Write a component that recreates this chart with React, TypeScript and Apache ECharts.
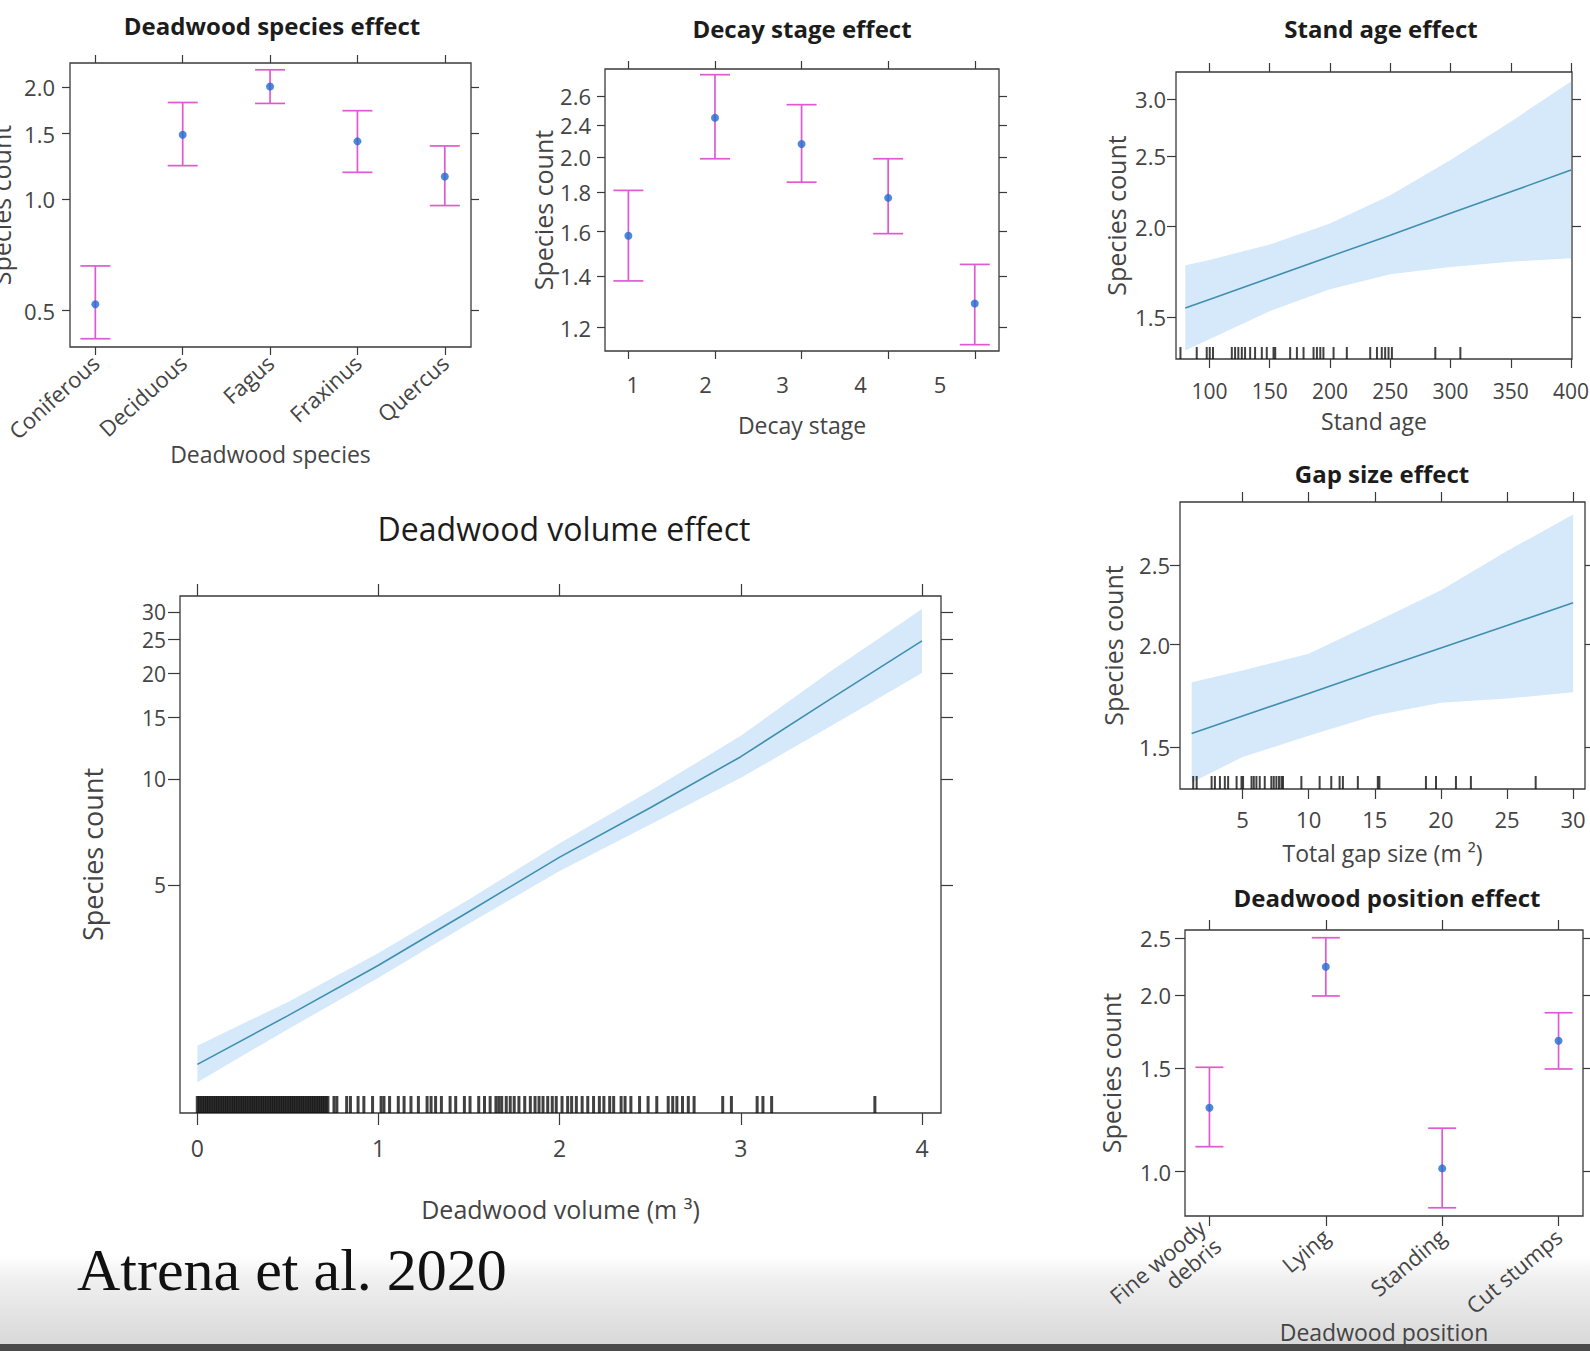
import React, { useEffect, useRef } from 'react';
import * as echarts from 'echarts';

// ---------- Deadwood species effect ----------
const speciesCategories = ['Coniferous', 'Deciduous', 'Fagus', 'Fraxinus', 'Quercus'];
const speciesFit = [0.52, 1.49, 2.01, 1.43, 1.15];
const speciesLower = [0.42, 1.23, 1.81, 1.18, 0.96];
const speciesUpper = [0.66, 1.82, 2.23, 1.73, 1.39];
const speciesYTicks = [0.5, 1.0, 1.5, 2.0];
const speciesYTickLabels = ['0.5', '1.0', '1.5', '2.0'];

// ---------- Decay stage effect ----------
const decayCategories = ['1', '2', '3', '4', '5'];
const decayFit = [1.58, 2.25, 2.08, 1.77, 1.29];
const decayLower = [1.38, 1.99, 1.855, 1.59, 1.14];
const decayUpper = [1.81, 2.56, 2.34, 1.99, 1.45];
const decayYTicks = [1.2, 1.4, 1.6, 1.8, 2.0, 2.2, 2.4];
const decayYTickLabels = ['1.2', '1.4', '1.6', '1.8', '2.0', '2.4', '2.6'];
const decayXLabelPositions = [1.05, 1.89, 2.78, 3.68, 4.6];

// ---------- Stand age effect ----------
const standAgeX = [80, 100, 150, 200, 250, 300, 350, 400];
const standAgeFit = [1.545, 1.588, 1.7, 1.82, 1.947, 2.087, 2.234, 2.393];
const standAgeUpper = [1.77, 1.8, 1.89, 2.02, 2.21, 2.47, 2.79, 3.17];
const standAgeLower = [1.35, 1.4, 1.53, 1.64, 1.72, 1.76, 1.79, 1.81];
const standAgeRug = [76, 89.5, 97.8, 100.3, 103, 118.6, 121.3, 124, 126.9, 129.6, 133.8, 137.9, 143.5, 147.6, 153.2, 154.6, 167, 172.6, 178.1, 186.4, 189.2, 192, 194.6, 203, 214, 233.4, 239, 243, 245.8, 248.6, 251.4, 287.4, 308.2];
const standAgeXTicks = [100, 150, 200, 250, 300, 350, 400];
const standAgeYTicks = [1.5, 2.0, 2.5, 3.0];
const standAgeYTickLabels = ['1.5', '2.0', '2.5', '3.0'];

// ---------- Gap size effect ----------
const gapX = [1.15, 5, 10, 15, 20, 25, 30];
const gapFit = [1.56, 1.638, 1.745, 1.86, 1.982, 2.111, 2.25];
const gapUpper = [1.8, 1.86, 1.95, 2.13, 2.33, 2.6, 2.88];
const gapLower = [1.36, 1.46, 1.55, 1.64, 1.7, 1.72, 1.75];
const gapRug = [1.27, 1.53, 2.66, 2.91, 3.29, 3.66, 3.91, 4.55, 4.92, 5.04, 5.68, 5.85, 6.05, 6.3, 6.68, 7.18, 7.36, 7.56, 7.76, 7.94, 8.06, 9.45, 10.83, 11.71, 12.34, 12.59, 13.72, 15.23, 15.35, 18.87, 19.63, 21.14, 22.27, 27.17];
const gapXTicks = [5, 10, 15, 20, 25, 30];
const gapYTicks = [1.5, 2.0, 2.5];
const gapYTickLabels = ['1.5', '2.0', '2.5'];

// ---------- Deadwood position effect ----------
const positionCategories = ['Fine woody\ndebris', 'Lying', 'Standing', 'Cut stumps'];
const positionFit = [1.285, 2.234, 1.013, 1.671];
const positionLower = [1.103, 1.992, 0.868, 1.496];
const positionUpper = [1.506, 2.503, 1.186, 1.865];
const positionYTicks = [1.0, 1.5, 2.0, 2.5];
const positionYTickLabels = ['1.0', '1.5', '2.0', '2.5'];

// ---------- Deadwood volume effect ----------
const volumeX = [0, 0.5, 1, 1.5, 2, 2.5, 3, 3.5, 4];
const volumeFit = [1.54, 2.12, 2.95, 4.2, 6.0, 8.3, 11.6, 17.0, 24.8];
const volumeUpper = [1.74, 2.32, 3.2, 4.55, 6.57, 9.27, 13.3, 20.4, 30.6];
const volumeLower = [1.37, 1.94, 2.72, 3.88, 5.48, 7.43, 10.1, 14.2, 20.1];
const volumeRugDense = [0, 0.01, 0.02, 0.03, 0.04, 0.05, 0.06, 0.07, 0.08, 0.09, 0.1, 0.11, 0.12, 0.13, 0.14, 0.15, 0.16, 0.17, 0.18, 0.19, 0.2, 0.21, 0.22, 0.23, 0.24, 0.25, 0.26, 0.27, 0.28, 0.29, 0.3, 0.31, 0.32, 0.33, 0.34, 0.35, 0.36, 0.37, 0.38, 0.39, 0.4, 0.41, 0.42, 0.43, 0.44, 0.45, 0.46, 0.47, 0.48, 0.49, 0.5, 0.51, 0.52, 0.53, 0.54, 0.55, 0.56, 0.57, 0.58, 0.59, 0.6, 0.61, 0.62, 0.63, 0.64, 0.65, 0.66, 0.67, 0.68, 0.69, 0.7, 0.71, 0.72];
const volumeRugSparse = [0.754, 0.77, 0.824, 0.845, 0.887, 0.919, 0.967, 1.014, 1.03, 1.061, 1.109, 1.141, 1.179, 1.22, 1.268, 1.29, 1.315, 1.347, 1.395, 1.426, 1.474, 1.505, 1.553, 1.585, 1.616, 1.648, 1.664, 1.68, 1.705, 1.727, 1.749, 1.775, 1.807, 1.838, 1.864, 1.886, 1.908, 1.934, 1.959, 1.981, 2.013, 2.044, 2.066, 2.092, 2.124, 2.155, 2.187, 2.219, 2.244, 2.276, 2.298, 2.339, 2.361, 2.393, 2.441, 2.488, 2.536, 2.599, 2.624, 2.647, 2.678, 2.71, 2.742, 2.9, 2.948, 3.09, 3.122, 3.17, 3.74];
const volumeXTicks = [0, 1, 2, 3, 4];
const volumeYTicks = [5, 10, 15, 20, 25, 30];
const volumeYTickLabels = ['5', '10', '15', '20', '25', '30'];

// ---------- styling ----------
const FONT = '"Open Sans", Lato, sans-serif';
const AXIS = '#3a3a3a';
const LABEL = '#444444';
const TITLE = '#1c1c1c';
const ERR = '#df5ad2';
const POINT = '#1f6dcf';
const BAND = '#d6e9fa';
const LINE = '#3f8fae';

const L = Math.log;

const nearest = (pos: number[], labels: string[]) => (v: number) => {
  let bi = 0;
  let bd = Infinity;
  pos.forEach((p, i) => {
    const d = Math.abs(p - v);
    if (d < bd) {
      bd = d;
      bi = i;
    }
  });
  return labels[bi];
};

interface AxisCfg {
  min: number;
  max: number;
  ticks: number[];
  labelPos?: number[];
  labels: string[];
  rotate?: number;
  name: string;
  nameGap: number;
  margin: number;
  fontSize: number;
  nameSize: number;
}

interface PanelCfg {
  grid: { left: number; top: number; width: number; height: number };
  x: AxisCfg;
  y: AxisCfg; // raw values, log-transformed inside
  tickLen: number;
}

function buildAxes(i: number, p: PanelCfg) {
  const tick = (vals: number[]) => ({
    show: true,
    inside: false,
    length: p.tickLen,
    customValues: vals,
    lineStyle: { color: AXIS, width: 1.2 },
  });
  const line = { show: false, onZero: false };
  const xPos = p.x.labelPos || p.x.ticks;
  const xBottom: any = {
    type: 'value',
    gridIndex: i,
    position: 'bottom',
    min: p.x.min,
    max: p.x.max,
    axisLine: line,
    splitLine: { show: false },
    axisTick: tick(p.x.ticks),
    axisLabel: {
      show: true,
      customValues: xPos,
      formatter: nearest(xPos, p.x.labels),
      rotate: p.x.rotate || 0,
      margin: p.x.margin,
      color: LABEL,
      fontFamily: FONT,
      fontSize: p.x.fontSize,
      lineHeight: p.x.fontSize + 2,
    },
    name: p.x.name,
    nameLocation: 'middle',
    nameGap: p.x.nameGap,
    nameMoveOverlap: false,
    nameTextStyle: { color: LABEL, fontFamily: FONT, fontSize: p.x.nameSize },
  };
  const xTop: any = {
    type: 'value',
    gridIndex: i,
    position: 'top',
    min: p.x.min,
    max: p.x.max,
    axisLine: line,
    splitLine: { show: false },
    axisTick: tick(p.x.ticks),
    axisLabel: { show: false },
  };
  const yT = p.y.ticks.map(L);
  const yLeft: any = {
    type: 'value',
    gridIndex: i,
    position: 'left',
    min: L(p.y.min),
    max: L(p.y.max),
    axisLine: line,
    splitLine: { show: false },
    axisTick: tick(yT),
    axisLabel: {
      show: true,
      customValues: yT,
      formatter: nearest(yT, p.y.labels),
      margin: p.y.margin,
      color: LABEL,
      fontFamily: FONT,
      fontSize: p.y.fontSize,
      lineHeight: p.y.fontSize,
    },
    name: p.y.name,
    nameLocation: 'middle',
    nameGap: p.y.nameGap,
    nameRotate: 90,
    nameMoveOverlap: false,
    nameTextStyle: { color: LABEL, fontFamily: FONT, fontSize: p.y.nameSize },
  };
  const yRight: any = {
    type: 'value',
    gridIndex: i,
    position: 'right',
    min: L(p.y.min),
    max: L(p.y.max),
    axisLine: line,
    splitLine: { show: false },
    axisTick: tick(yT),
    axisLabel: { show: false },
  };
  return { x: [xBottom, xTop], y: [yLeft, yRight] };
}

const errorBarRender = (half: number) => (params: any, api: any) => {
  const x = api.value(0);
  const lo = api.coord([x, api.value(1)]);
  const hi = api.coord([x, api.value(2)]);
  const style = { stroke: ERR, lineWidth: 1.7 };
  return {
    type: 'group',
    children: [
      { type: 'line', shape: { x1: lo[0], y1: lo[1], x2: hi[0], y2: hi[1] }, style },
      { type: 'line', shape: { x1: lo[0] - half, y1: lo[1], x2: lo[0] + half, y2: lo[1] }, style },
      { type: 'line', shape: { x1: hi[0] - half, y1: hi[1], x2: hi[0] + half, y2: hi[1] }, style },
    ],
  };
};

function errorSeries(i: number, fit: number[], lower: number[], upper: number[], half: number) {
  return [
    {
      type: 'custom',
      xAxisIndex: 2 * i,
      yAxisIndex: 2 * i,
      renderItem: errorBarRender(half),
      encode: { x: 0, y: [1, 2] },
      data: fit.map((_, k) => [k + 1, L(lower[k]), L(upper[k])]),
      z: 3,
      silent: true,
    },
    {
      type: 'scatter',
      xAxisIndex: 2 * i,
      yAxisIndex: 2 * i,
      symbol: 'circle',
      symbolSize: 8,
      itemStyle: { color: POINT },
      data: fit.map((v, k) => [k + 1, L(v)]),
      z: 4,
      silent: true,
    },
  ];
}

function curveSeries(
  i: number,
  xs: number[],
  fit: number[],
  lower: number[],
  upper: number[],
  rugs: { values: number[]; w: number }[],
  rugH: number,
  yMin: number,
) {
  const out: any[] = [
    {
      type: 'custom',
      xAxisIndex: 2 * i,
      yAxisIndex: 2 * i,
      data: xs.map((x, k) => [x, L(lower[k]), L(upper[k])]),
      encode: { x: 0, y: [1, 2] },
      renderItem: (params: any, api: any) => {
        if (params.dataIndex !== 0) return null;
        const pts: number[][] = [];
        xs.forEach((x, k) => pts.push(api.coord([x, L(upper[k])])));
        for (let k = xs.length - 1; k >= 0; k--) pts.push(api.coord([xs[k], L(lower[k])]));
        return { type: 'polygon', shape: { points: pts }, style: { fill: BAND } };
      },
      z: 2,
      silent: true,
    },
    {
      type: 'line',
      xAxisIndex: 2 * i,
      yAxisIndex: 2 * i,
      data: xs.map((x, k) => [x, L(fit[k])]),
      showSymbol: false,
      symbol: 'none',
      smooth: false,
      lineStyle: { color: LINE, width: 1.6 },
      z: 3,
      silent: true,
    },
  ];
  rugs.forEach((r) => {
    out.push({
      type: 'scatter',
      xAxisIndex: 2 * i,
      yAxisIndex: 2 * i,
      symbol: 'rect',
      symbolSize: [r.w, rugH],
      symbolOffset: [0, -rugH / 2],
      itemStyle: { color: '#111111' },
      clip: false,
      data: r.values.map((v) => [v, L(yMin)]),
      z: 4,
      silent: true,
    });
  });
  return out;
}

const catPos = (n: number) => Array.from({ length: n }, (_, k) => k + 1);

const panels: PanelCfg[] = [
  {
    grid: { left: 70, top: 63, width: 401, height: 284 },
    tickLen: 8,
    x: { min: 0.71, max: 5.3, ticks: catPos(5), labels: speciesCategories, rotate: 42, name: 'Deadwood species', nameGap: 95, margin: 12, fontSize: 22, nameSize: 23 },
    y: { min: 0.399, max: 2.326, ticks: speciesYTicks, labels: speciesYTickLabels, name: 'Species count', nameGap: 57, margin: 15, fontSize: 22, nameSize: 25 },
  },
  {
    grid: { left: 605, top: 69, width: 394, height: 282 },
    tickLen: 8,
    x: { min: 0.73, max: 5.28, ticks: catPos(5), labelPos: decayXLabelPositions, labels: decayCategories, name: 'Decay stage', nameGap: 62, margin: 21, fontSize: 22, nameSize: 23 },
    y: { min: 1.1186, max: 2.604, ticks: decayYTicks, labels: decayYTickLabels, name: 'Species count', nameGap: 50, margin: 14, fontSize: 22, nameSize: 25 },
  },
  {
    grid: { left: 1176, top: 72, width: 396, height: 287 },
    tickLen: 9,
    x: { min: 72.3, max: 400.8, ticks: standAgeXTicks, labels: standAgeXTicks.map(String), name: 'Stand age', nameGap: 50, margin: 20, fontSize: 21, nameSize: 23 },
    y: { min: 1.3146, max: 3.266, ticks: standAgeYTicks, labels: standAgeYTickLabels, name: 'Species count', nameGap: 48, margin: 10, fontSize: 22, nameSize: 25 },
  },
  {
    grid: { left: 1180, top: 502, width: 405, height: 287 },
    tickLen: 10,
    x: { min: 0.27, max: 30.9, ticks: gapXTicks, labels: gapXTicks.map(String), name: 'Total gap size (m ²)', nameGap: 52, margin: 18, fontSize: 22, nameSize: 23 },
    y: { min: 1.335, max: 2.983, ticks: gapYTicks, labels: gapYTickLabels, name: 'Species count', nameGap: 55, margin: 10, fontSize: 22, nameSize: 25 },
  },
  {
    grid: { left: 1185, top: 930, width: 398, height: 286 },
    tickLen: 10,
    x: { min: 0.79, max: 4.21, ticks: catPos(4), labels: positionCategories, rotate: 40, name: 'Deadwood position', nameGap: 104, margin: 17, fontSize: 22, nameSize: 23 },
    y: { min: 0.8405, max: 2.58, ticks: positionYTicks, labels: positionYTickLabels, name: 'Species count', nameGap: 62, margin: 14, fontSize: 22, nameSize: 25 },
  },
  {
    grid: { left: 180, top: 596, width: 761, height: 517 },
    tickLen: 12,
    x: { min: -0.096, max: 4.105, ticks: volumeXTicks, labels: volumeXTicks.map(String), name: 'Deadwood volume (m ³)', nameGap: 83, margin: 22, fontSize: 23, nameSize: 25 },
    y: { min: 1.119, max: 33.3, ticks: volumeYTicks, labels: volumeYTickLabels, name: 'Species count', nameGap: 74, margin: 14, fontSize: 21, nameSize: 27 },
  },
];

const titles = [
  { text: 'Deadwood species effect', x: 272, y: 25, size: 24, weight: 'bold' },
  { text: 'Decay stage effect', x: 802, y: 28, size: 24, weight: 'bold' },
  { text: 'Stand age effect', x: 1381, y: 28, size: 24, weight: 'bold' },
  { text: 'Gap size effect', x: 1382, y: 473, size: 24, weight: 'bold' },
  { text: 'Deadwood position effect', x: 1387, y: 897, size: 24, weight: 'bold' },
  { text: 'Deadwood volume effect', x: 564, y: 528, size: 32, weight: 'normal' },
];

function buildOption() {
  const grids: any[] = [];
  const xAxes: any[] = [];
  const yAxes: any[] = [];
  panels.forEach((p, i) => {
    grids.push({
      ...p.grid,
      show: true,
      borderColor: AXIS,
      borderWidth: 1.3,
      backgroundColor: 'rgba(0,0,0,0)',
      containLabel: false,
      outerBoundsMode: 'none',
    });
    const a = buildAxes(i, p);
    xAxes.push(...a.x);
    yAxes.push(...a.y);
  });

  const series: any[] = [
    ...errorSeries(0, speciesFit, speciesLower, speciesUpper, 15),
    ...errorSeries(1, decayFit, decayLower, decayUpper, 15),
    ...curveSeries(2, standAgeX, standAgeFit, standAgeLower, standAgeUpper, [{ values: standAgeRug, w: 2 }], 12, panels[2].y.min),
    ...curveSeries(3, gapX, gapFit, gapLower, gapUpper, [{ values: gapRug, w: 2 }], 13, panels[3].y.min),
    ...errorSeries(4, positionFit, positionLower, positionUpper, 14),
    ...curveSeries(
      5,
      volumeX,
      volumeFit,
      volumeLower,
      volumeUpper,
      [
        { values: volumeRugDense, w: 3.2 },
        { values: volumeRugSparse, w: 3 },
      ],
      17,
      panels[5].y.min,
    ),
  ];

  const graphic: any[] = [
    {
      type: 'rect',
      z: -10,
      shape: { x: 0, y: 1256, width: 1590, height: 90 },
      style: {
        fill: new echarts.graphic.LinearGradient(0, 0, 0, 1, [
          { offset: 0, color: 'rgba(240,240,240,0)' },
          { offset: 0.25, color: '#f0f0f0' },
          { offset: 1, color: '#d8d8d8' },
        ]),
      },
      silent: true,
    },
    {
      type: 'rect',
      z: -10,
      shape: { x: 0, y: 1344, width: 1590, height: 7 },
      style: { fill: '#4a4a4a' },
      silent: true,
    },
    ...titles.map((t) => ({
      type: 'text',
      x: t.x,
      y: t.y,
      z: 10,
      style: {
        text: t.text,
        fill: TITLE,
        fontFamily: FONT,
        fontSize: t.size,
        fontWeight: t.weight,
        align: 'center',
        verticalAlign: 'middle',
      },
      silent: true,
    })),
    {
      type: 'text',
      x: 77,
      y: 1270,
      z: 10,
      style: {
        text: 'Atrena et al. 2020',
        fill: '#111111',
        fontFamily: '"Liberation Serif", "DejaVu Serif", serif',
        fontSize: 60,
        align: 'left',
        verticalAlign: 'middle',
      },
      silent: true,
    },
  ];

  return {
    animation: false,
    backgroundColor: '#ffffff',
    grid: grids,
    xAxis: xAxes,
    yAxis: yAxes,
    series,
    graphic,
  };
}

export default function App() {
  const ref = useRef<HTMLDivElement>(null);
  useEffect(() => {
    if (!ref.current) return;
    const chart = echarts.init(ref.current, undefined, { renderer: 'svg' });
    chart.setOption(buildOption() as any);
    return () => chart.dispose();
  }, []);
  return (
    <div
      ref={ref}
      style={{ position: 'absolute', left: 0, top: 0, width: 1590, height: 1351 }}
    />
  );
}
